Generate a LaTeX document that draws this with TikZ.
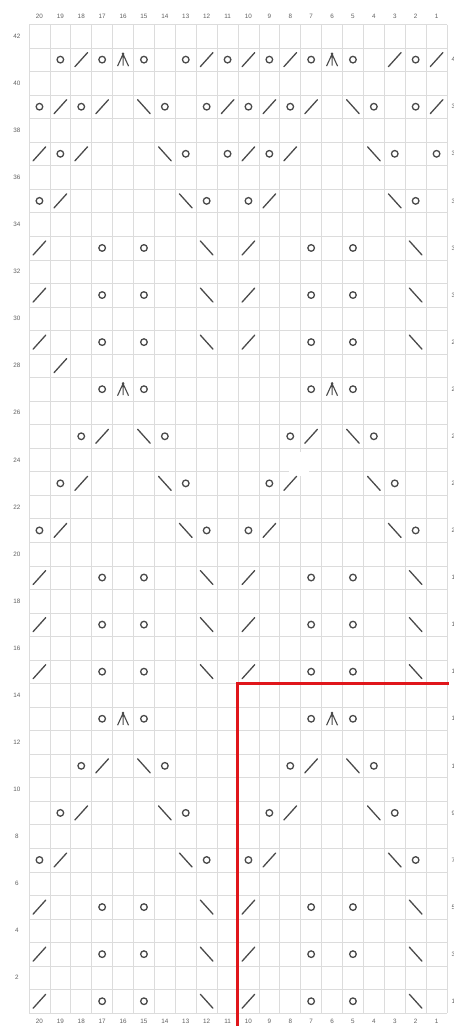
\documentclass[tikz,border=0pt]{standalone}
\usepackage{fontspec}
\setmainfont{Liberation Sans}
\definecolor{gridc}{HTML}{DCDCDC}
\definecolor{symc}{HTML}{4A4A4A}
\definecolor{labc}{HTML}{606060}
\definecolor{redc}{HTML}{E0161B}
\tikzset{
  gridline/.style={draw=gridc,line width=0.8pt},
  sym/.style={draw=symc,line width=1.3pt},
  lab/.style={text=labc,font=\fontsize{6.3}{7}\selectfont,inner sep=0pt},
  redline/.style={draw=redc,line width=3pt}
}
\newcommand\cx[1]{457.45-20.9*#1}
\newcommand\ry[1]{1024.77-23.54*#1}
\newcommand\stYO[2]{\draw[sym] ({\cx{#1}},{\ry{#2}}) circle[radius=3.3];}
\newcommand\stKT[2]{\draw[sym,line cap=round] ({\cx{#1}},{\ry{#2}}) +(-6.3,7) -- +(6.3,-7);}
\newcommand\stSK[2]{\draw[sym,line cap=round] ({\cx{#1}},{\ry{#2}}) +(-6.3,-7) -- +(6.3,7);}
\newcommand\stCD[2]{\draw[sym,line width=1.1pt] ({\cx{#1}},{\ry{#2}}) +(-5.5,6.5) -- +(0,-5.5) -- +(5.5,6.5) +(0,-5.5) -- +(0,6);
  \fill[symc] ({\cx{#1}},{\ry{#2}}) +(0,-5.8) circle[radius=1.4];}
\begin{document}
\begin{tikzpicture}[x=1pt,y=-1pt]
\useasboundingbox (0,0) rectangle (453,1026);
\fill[white] (0,0) rectangle (453,1026);
% grid
\foreach \i in {0,...,20}{\draw[gridline] ({29+20.9*\i},24.5) -- ({29+20.9*\i},1013);}
\foreach \j in {0,...,42}{\draw[gridline] (29,{24.5+23.54*\j}) -- (447,{24.5+23.54*\j});}
\fill[white] (289,452) rectangle (309,475.5);
% column labels
\foreach \c in {1,...,20}{
  \node[lab] (top\c) at ({\cx{\c}},16) {\c};
  \node[lab] (bot\c) at ({\cx{\c}},1021.5) {\c};
}
% row labels
\foreach \r in {2,4,...,42}{\node[lab] (left\r) at (17,{\ry{\r}}) {\r};}
\foreach \r in {1,3,...,41}{\node[lab,anchor=west] (right\r) at (451.3,{\ry{\r}}) {\r};}
% pattern rows
\foreach \r in {1,3,5,15,17,19,29,31,33}{
  \foreach \c/\t in {20/KT,17/YO,15/YO,12/SK,10/KT,7/YO,5/YO,2/SK}{\csname st\t\endcsname{\c}{\r}}}
\foreach \r in {7,21,35}{
  \foreach \c/\t in {20/YO,19/KT,13/SK,12/YO,10/YO,9/KT,3/SK,2/YO}{\csname st\t\endcsname{\c}{\r}}}
\foreach \r in {9,23}{
  \foreach \c/\t in {19/YO,18/KT,14/SK,13/YO,9/YO,8/KT,4/SK,3/YO}{\csname st\t\endcsname{\c}{\r}}}
\foreach \r in {11,25}{
  \foreach \c/\t in {18/YO,17/KT,15/SK,14/YO,8/YO,7/KT,5/SK,4/YO}{\csname st\t\endcsname{\c}{\r}}}
\foreach \r in {13,27}{
  \foreach \c/\t in {17/YO,16/CD,15/YO,7/YO,6/CD,5/YO}{\csname st\t\endcsname{\c}{\r}}}
\foreach \c/\t in {20/KT,19/YO,18/KT,14/SK,13/YO,11/YO,10/KT,9/YO,8/KT,4/SK,3/YO,1/YO}{\csname st\t\endcsname{\c}{37}}
\foreach \c/\t in {20/YO,19/KT,18/YO,17/KT,15/SK,14/YO,12/YO,11/KT,10/YO,9/KT,8/YO,7/KT,5/SK,4/YO,2/YO,1/KT}{\csname st\t\endcsname{\c}{39}}
\foreach \c/\t in {19/YO,18/KT,17/YO,16/CD,15/YO,13/YO,12/KT,11/YO,10/KT,9/YO,8/KT,7/YO,6/CD,5/YO,3/KT,2/YO,1/KT}{\csname st\t\endcsname{\c}{41}}
\stKT{19}{28}
% red outline
\coordinate (rc) at (237.6,683.5);
\coordinate (rr) at (448.5,683.5);
\coordinate (rb) at (237.6,1026);
\draw[redline] (rr) -- (rc) -- (rb);
\end{tikzpicture}
\end{document}
